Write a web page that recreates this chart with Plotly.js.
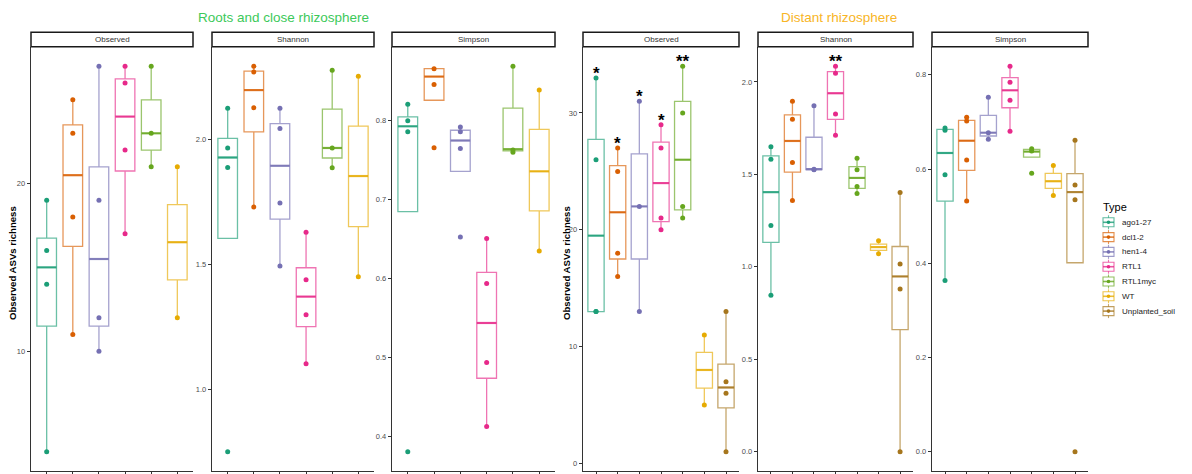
<!DOCTYPE html>
<html>
<head>
<meta charset="utf-8">
<script src="https://cdn.plot.ly/plotly-3.0.1.min.js"></script>
<style>html,body{margin:0;padding:0;background:#fff;}#chart{width:1192px;height:474px;}</style>
</head>
<body>
<div id="chart"></div>
<script>
// ---------------- DATA ----------------
const types = ['ago1-27', 'dcl1-2', 'hen1-4', 'RTL1', 'RTL1myc', 'WT', 'Unplanted_soil'];
const typeColors = ['#1B9E77', '#D95F02', '#7570B3', '#E7298A', '#66A61E', '#E6AB02', '#A6761D'];
const groupTitles = ['Roots and close rhizosphere', 'Distant rhizosphere'];
const panelLabels = ['Observed', 'Shannon', 'Simpson', 'Observed', 'Shannon', 'Simpson'];
const yTitle = 'Observed ASVs richness';

// Roots and close rhizosphere - Observed
const rootObsLo  = [4, 11, 10, 17, 21, 12];
const rootObsQ1  = [11.5, 16.25, 11.5, 20.75, 22, 14.25];
const rootObsMed = [15, 20.5, 15.5, 24, 23, 16.5];
const rootObsQ3  = [16.75, 23.5, 21, 26.25, 25, 18.75];
const rootObsHi  = [19, 25, 27, 27, 27, 21];
const rootObsPts = [[4, 14, 16, 19], [11, 18, 23, 25], [10, 12, 19, 27], [17, 22, 26, 27], [21, 23, 27], [12, 21]];

// Roots and close rhizosphere - Shannon
const rootShaLo  = [1.604, 1.729, 1.494, 1.104, 1.886, 1.451];
const rootShaQ1  = [1.604, 2.029, 1.681, 1.252, 1.925, 1.651];
const rootShaMed = [1.927, 2.196, 1.894, 1.372, 1.965, 1.853];
const rootShaQ3  = [2.003, 2.272, 2.062, 1.487, 2.120, 2.052];
const rootShaHi  = [2.124, 2.291, 2.124, 1.629, 2.275, 2.251];
const rootShaPts = [[0.753, 1.887, 1.965, 2.124], [1.729, 2.126, 2.268, 2.291], [1.494, 1.745, 2.043, 2.124], [1.104, 1.300, 1.439, 1.629], [1.886, 1.965, 2.275], [1.451, 2.251]];

// Roots and close rhizosphere - Simpson
const rootSimLo  = [0.685, 0.826, 0.736, 0.413, 0.760, 0.635];
const rootSimQ1  = [0.685, 0.826, 0.736, 0.474, 0.762, 0.686];
const rootSimMed = [0.793, 0.856, 0.775, 0.544, 0.764, 0.736];
const rootSimQ3  = [0.805, 0.866, 0.788, 0.608, 0.816, 0.789];
const rootSimHi  = [0.821, 0.866, 0.792, 0.651, 0.869, 0.839];
const rootSimPts = [[0.381, 0.786, 0.800, 0.821], [0.766, 0.846, 0.866], [0.653, 0.765, 0.786, 0.792], [0.413, 0.494, 0.594, 0.651], [0.760, 0.763, 0.869], [0.635, 0.839]];

// Distant rhizosphere - Observed
const distObsLo  = [13, 16, 13, 20, 21, 5, 1];
const distObsQ1  = [13, 17.5, 17.5, 20.7, 21.7, 6.45, 4.75];
const distObsMed = [19.5, 21.5, 22, 24, 26, 8, 6.5];
const distObsQ3  = [27.75, 25.5, 26.5, 27.5, 31, 9.5, 8.5];
const distObsHi  = [33, 27, 31, 29, 34, 11, 13];
const distObsPts = [[13, 13, 26, 33], [16, 18, 25, 27], [13, 22, 31], [20, 21, 27, 29], [21, 22, 30, 34], [5, 11], [1, 6, 7, 13]];
const distObsSig = ['*', '*', '*', '*', '**', '', ''];

// Distant rhizosphere - Shannon
const distShaLo  = [0.846, 1.359, 1.526, 1.712, 1.397, 1.071, 0.0];
const distShaQ1  = [1.132, 1.512, 1.526, 1.798, 1.424, 1.089, 0.660];
const distShaMed = [1.404, 1.681, 1.528, 1.939, 1.481, 1.107, 0.948];
const distShaQ3  = [1.600, 1.822, 1.701, 2.056, 1.542, 1.123, 1.110];
const distShaHi  = [1.650, 1.896, 1.872, 2.085, 1.588, 1.141, 1.402];
const distShaPts = [[0.846, 1.224, 1.582, 1.650], [1.359, 1.564, 1.798, 1.896], [1.525, 1.528, 1.872], [1.712, 1.827, 2.047, 2.085], [1.397, 1.434, 1.525, 1.588], [1.071, 1.141], [0.0, 0.880, 1.015, 1.402]];
const distShaSig = ['', '', '', '**', '', '', ''];

// Distant rhizosphere - Simpson
const distSimLo  = [0.3635, 0.532, 0.663, 0.680, 0.625, 0.544, 0.401];
const distSimQ1  = [0.532, 0.597, 0.670, 0.730, 0.625, 0.559, 0.401];
const distSimMed = [0.634, 0.660, 0.677, 0.767, 0.637, 0.574, 0.551];
const distSimQ3  = [0.684, 0.703, 0.714, 0.794, 0.6415, 0.5906, 0.590];
const distSimHi  = [0.687, 0.710, 0.752, 0.818, 0.643, 0.6075, 0.661];
const distSimPts = [[0.3635, 0.588, 0.682, 0.687], [0.532, 0.619, 0.702, 0.710], [0.663, 0.677, 0.752], [0.680, 0.746, 0.784, 0.818], [0.591, 0.638, 0.643], [0.544, 0.6075], [0.0, 0.535, 0.566, 0.661]];

// ---------------- LAYOUT CONFIG ----------------
const W = 1192, H = 474;
const panels = [
  {lo: rootObsLo, q1: rootObsQ1, med: rootObsMed, q3: rootObsQ3, hi: rootObsHi, pts: rootObsPts, sig: null, px0: 31, px1: 193, dtick: 10, fmt: 'd'},
  {lo: rootShaLo, q1: rootShaQ1, med: rootShaMed, q3: rootShaQ3, hi: rootShaHi, pts: rootShaPts, sig: null, px0: 212, px1: 374, dtick: 0.5, fmt: '.1f'},
  {lo: rootSimLo, q1: rootSimQ1, med: rootSimMed, q3: rootSimQ3, hi: rootSimHi, pts: rootSimPts, sig: null, px0: 392, px1: 555, dtick: 0.1, fmt: '.1f'},
  {lo: distObsLo, q1: distObsQ1, med: distObsMed, q3: distObsQ3, hi: distObsHi, pts: distObsPts, sig: distObsSig, px0: 583, px1: 739, dtick: 10, fmt: 'd'},
  {lo: distShaLo, q1: distShaQ1, med: distShaMed, q3: distShaQ3, hi: distShaHi, pts: distShaPts, sig: distShaSig, px0: 758, px1: 913, dtick: 0.5, fmt: '.1f'},
  {lo: distSimLo, q1: distSimQ1, med: distSimMed, q3: distSimQ3, hi: distSimHi, pts: distSimPts, sig: null, px0: 932, px1: 1088, dtick: 0.2, fmt: '.1f'}
];
const plotTop = 47, plotBot = 471, stripTop = 32.3, stripBot = 46.7;
const BOXW = 0.75;

function rgba(hex, a) {
  const r = parseInt(hex.slice(1, 3), 16), g = parseInt(hex.slice(3, 5), 16), b = parseInt(hex.slice(5, 7), 16);
  return 'rgba(' + r + ',' + g + ',' + b + ',' + a + ')';
}
const fx = px => px / W;
const fy = py => 1 - py / H;

const traces = [];
const layout = {
  width: W, height: H, autosize: false,
  margin: {l: 0, r: 0, t: 0, b: 0},
  paper_bgcolor: '#fff', plot_bgcolor: '#fff',
  showlegend: false,
  font: {family: '"Liberation Sans", Arial, sans-serif', color: '#4D4D4D'},
  shapes: [], annotations: []
};

panels.forEach((p, k) => {
  const ax = k === 0 ? '' : String(k + 1);
  const xa = 'x' + ax, ya = 'y' + ax;
  const n = p.med.length;
  let mn = Infinity, mx = -Infinity;
  for (let i = 0; i < n; i++) {
    p.pts[i].concat([p.lo[i], p.hi[i]]).forEach(v => { mn = Math.min(mn, v); mx = Math.max(mx, v); });
  }
  const span = mx - mn;
  layout['xaxis' + ax] = {
    domain: [fx(p.px0), fx(p.px1)], anchor: ya, range: [-0.6, n - 0.4],
    tickvals: types.slice(0, n).map((t, i) => i), showticklabels: false,
    ticks: 'outside', ticklen: 3, tickwidth: 1, tickcolor: '#333',
    showline: true, linecolor: '#333', linewidth: 1.3, showgrid: false, zeroline: false, fixedrange: true
  };
  layout['yaxis' + ax] = {
    domain: [fy(plotBot), fy(plotTop)], anchor: xa, range: [mn - 0.05 * span, mx + 0.05 * span],
    dtick: p.dtick, tick0: 0, tickformat: p.fmt,
    ticks: 'outside', ticklen: 3, tickwidth: 1, tickcolor: '#333',
    tickfont: {size: 7.5, color: '#4D4D4D'},
    showline: true, linecolor: '#333', linewidth: 1.3, showgrid: false, zeroline: false, fixedrange: true
  };
  for (let i = 0; i < n; i++) {
    const c = typeColors[i];
    traces.push({
      type: 'box', xaxis: xa, yaxis: ya, name: types[i],
      x: [i], q1: [p.q1[i]], median: [p.med[i]], q3: [p.q3[i]],
      lowerfence: [p.lo[i]], upperfence: [p.hi[i]],
      width: BOXW, whiskerwidth: 0, boxpoints: false,
      line: {color: rgba(c, 0.65), width: 1.3}, fillcolor: 'rgba(255,255,255,0)',
      hoverinfo: 'skip', showlegend: false
    });
    traces.push({
      type: 'scatter', mode: 'lines', xaxis: xa, yaxis: ya,
      x: [i - BOXW / 2, i + BOXW / 2], y: [p.med[i], p.med[i]],
      line: {color: rgba(c, 0.8), width: 2.2}, hoverinfo: 'skip', showlegend: false
    });
    traces.push({
      type: 'scatter', mode: 'markers', xaxis: xa, yaxis: ya,
      x: p.pts[i].map(() => i), y: p.pts[i],
      marker: {color: c, size: 5}, hoverinfo: 'skip', showlegend: false
    });
    if (p.sig && p.sig[i]) {
      layout.annotations.push({
        xref: xa, yref: ya, x: i, y: p.hi[i], text: '<b>' + p.sig[i] + '</b>', showarrow: false,
        yanchor: 'bottom', yshift: -7, font: {size: 17, color: '#000', family: 'Arial, sans-serif'}
      });
    }
  }
  layout.shapes.push({
    type: 'rect', xref: 'paper', yref: 'paper',
    x0: fx(p.px0), x1: fx(p.px1), y0: fy(stripBot), y1: fy(stripTop),
    line: {color: '#1A1A1A', width: 1.5}, fillcolor: '#fff'
  });
  layout.annotations.push({
    xref: 'paper', yref: 'paper', x: fx((p.px0 + p.px1) / 2), y: fy((stripTop + stripBot) / 2),
    text: panelLabels[k], showarrow: false, xanchor: 'center', yanchor: 'middle',
    font: {size: 8, color: '#333333'}
  });
});

[{x: 12}, {x: 566}].forEach(t => {
  layout.annotations.push({
    xref: 'paper', yref: 'paper', x: fx(t.x), y: fy(263), text: '<b>' + yTitle + '</b>',
    textangle: -90, showarrow: false, xanchor: 'center', yanchor: 'middle',
    font: {size: 9.6, color: '#000'}
  });
});

layout.annotations.push({
  xref: 'paper', yref: 'paper', x: fx(283), y: fy(17), text: groupTitles[0], showarrow: false,
  xanchor: 'center', yanchor: 'middle', font: {size: 13.5, color: '#3CC95A'}
});
layout.annotations.push({
  xref: 'paper', yref: 'paper', x: fx(839), y: fy(17), text: groupTitles[1], showarrow: false,
  xanchor: 'center', yanchor: 'middle', font: {size: 13.5, color: '#F8B526'}
});

layout.annotations.push({
  xref: 'paper', yref: 'paper', x: fx(1101), y: fy(207), text: 'Type', showarrow: false,
  xanchor: 'left', yanchor: 'middle', font: {size: 11, color: '#000'}
});
types.forEach((t, i) => {
  const cy = 222.3 + i * 14.8;
  const c = typeColors[i];
  const kx0 = 1103, kx1 = 1114, kc = (kx0 + kx1) / 2;
  layout.shapes.push({type: 'line', xref: 'paper', yref: 'paper', x0: fx(kc), x1: fx(kc), y0: fy(cy + 7), y1: fy(cy - 7), line: {color: rgba(c, 0.65), width: 1.1}});
  layout.shapes.push({type: 'rect', xref: 'paper', yref: 'paper', x0: fx(kx0), x1: fx(kx1), y0: fy(cy + 4.5), y1: fy(cy - 4.5), line: {color: rgba(c, 0.7), width: 1.1}, fillcolor: '#fff'});
  layout.shapes.push({type: 'line', xref: 'paper', yref: 'paper', x0: fx(kx0), x1: fx(kx1), y0: fy(cy), y1: fy(cy), line: {color: rgba(c, 0.8), width: 1.6}});
  layout.shapes.push({type: 'circle', xref: 'paper', yref: 'paper', x0: fx(kc - 1.8), x1: fx(kc + 1.8), y0: fy(cy + 1.8), y1: fy(cy - 1.8), line: {width: 0}, fillcolor: c});
  layout.annotations.push({
    xref: 'paper', yref: 'paper', x: fx(1120), y: fy(cy), text: t, showarrow: false,
    xanchor: 'left', yanchor: 'middle', font: {size: 8, color: '#1A1A1A'}
  });
});

Plotly.newPlot('chart', traces, layout, {displayModeBar: false, staticPlot: true});
</script>
</body>
</html>
